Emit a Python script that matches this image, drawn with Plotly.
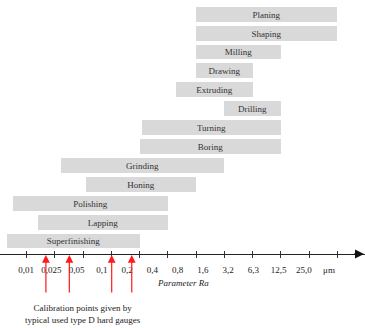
import plotly.graph_objects as go

# Processes (bottom to top) and their Ra ranges expressed on the tick scale
processes = ["Superfinishing", "Lapping", "Polishing", "Honing", "Grinding",
             "Boring", "Turning", "Drilling", "Extruding", "Drawing",
             "Milling", "Shaping", "Planing"]
range_start = [-0.71, 0.41, -0.50, 2.10, 1.20, 4.00, 4.07, 7.00, 5.30, 6.00, 6.00, 6.00, 6.00]
range_end = [4.0, 5.0, 5.0, 6.0, 7.0, 9.0, 9.0, 9.0, 8.0, 8.0, 9.0, 11.0, 11.0]

tick_positions = list(range(12))
ra_labels = ["0,01", "0,025", "0,05", "0,1", "0,2", "0,4", "0,8", "1,6",
             "3,2", "6,3", "12,5", "25,0", "μm"]
calibration_points = [0.68, 1.51, 3.01, 3.72]

FONT = "Liberation Serif, Times New Roman, serif"
FS = 9
W, H = 365, 328
BOTTOM = 74

fig = go.Figure()
fig.add_trace(go.Bar(
    y=processes,
    x=[e - s for s, e in zip(range_start, range_end)],
    base=range_start,
    orientation="h",
    width=0.79,
    marker=dict(color="#d9d9d9", line=dict(width=0)),
    text=processes,
    textposition="inside",
    insidetextanchor="middle",
    textangle=0,
    constraintext="none",
    textfont=dict(family=FONT, size=FS, color="#333333"),
    hoverinfo="skip",
    showlegend=False,
))

# Main tick scale (bar boundaries)
x_rng = [-26.7 / 28.24, -26.7 / 28.24 + W / 28.24]
# Label scale
lab_rng = [-26.0 / 25.25, -26.0 / 25.25 + W / 25.25]

fig.update_layout(
    width=W, height=H,
    margin=dict(l=0, r=0, t=0, b=BOTTOM),
    plot_bgcolor="white", paper_bgcolor="white",
    bargap=0,
    xaxis=dict(range=x_rng, tickvals=tick_positions, showticklabels=False,
               ticks="outside", ticklen=3, tickcolor="#333333", tickwidth=1,
               showgrid=False, zeroline=False, showline=True,
               linecolor="#222222", linewidth=1, fixedrange=True),
    xaxis3=dict(range=x_rng, tickvals=tick_positions, showticklabels=False,
                ticks="inside", ticklen=3, tickcolor="#333333", tickwidth=1,
                showgrid=False, zeroline=False, showline=False,
                overlaying="x", anchor="y", side="bottom"),
    xaxis2=dict(range=lab_rng, tickvals=list(range(len(ra_labels))),
                ticktext=ra_labels, ticks="", showgrid=False, zeroline=False,
                showline=False, overlaying="x", anchor="y", side="bottom",
                ticklabelstandoff=9,
                tickfont=dict(family=FONT, size=FS, color="#222222")),
    yaxis=dict(type="category", range=[-0.688, 12.75], visible=False,
               showgrid=False, fixedrange=True),
)

# invisible traces to activate overlay axes
fig.add_trace(go.Scatter(x=[None], y=[None], xaxis="x2", yaxis="y",
                         showlegend=False, hoverinfo="skip"))
fig.add_trace(go.Scatter(x=[None], y=[None], xaxis="x3", yaxis="y",
                         showlegend=False, hoverinfo="skip"))

annotations = []
# axis arrowhead
annotations.append(dict(xref="paper", yref="paper", x=0.998, y=0,
                        ax=-12, ay=0, axref="pixel", ayref="pixel",
                        showarrow=True, arrowhead=2, arrowsize=1.8,
                        arrowwidth=1, arrowcolor="#111111", text=""))
# calibration arrows
for cp in calibration_points:
    annotations.append(dict(xref="x", yref="paper", x=cp, y=0,
                            ax=0, ay=40, axref="pixel", ayref="pixel",
                            showarrow=True, arrowhead=2, arrowsize=1.3,
                            arrowwidth=1.2, arrowcolor="#ff1a1a",
                            standoff=1, text=""))
annotations.append(dict(xref="paper", yref="paper", x=183 / W, y=0,
                        xanchor="center", yshift=-29, yanchor="middle",
                        showarrow=False, text="<i>Parameter Ra</i>",
                        font=dict(family=FONT, size=FS, color="#222222")))
annotations.append(dict(xref="paper", yref="paper", x=83.3 / W, y=0,
                        xanchor="center", yshift=-60, yanchor="middle",
                        showarrow=False,
                        text="Calibration points given by<br>typical used type D hard gauges",
                        font=dict(family=FONT, size=FS, color="#222222")))
fig.update_layout(annotations=annotations)

fig.write_html("out.html")
